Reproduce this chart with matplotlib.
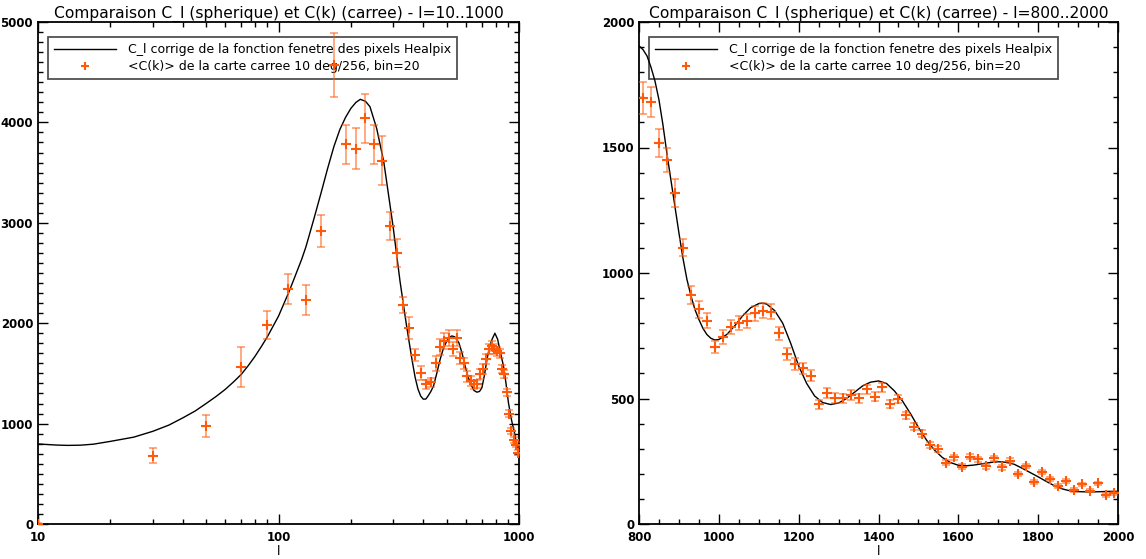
import numpy as np
import matplotlib
matplotlib.use('Agg')
import matplotlib.pyplot as plt
from matplotlib.lines import Line2D
from matplotlib.ticker import MultipleLocator, LogLocator, NullFormatter, FixedLocator, FixedFormatter

###############################################################################
# Data
###############################################################################
# left panel: l = 10..1000 (log axis)
ell_th_left = [10, 12, 13.3, 15, 17, 20, 25, 30, 35, 40, 45, 50, 55, 60, 65, 70,
               75, 80, 85, 90, 100, 110, 116, 125, 130, 140, 150, 160, 170, 180,
               190, 200, 210, 219, 230, 240, 256, 274, 291, 300, 310, 320, 330,
               340, 350, 360, 370, 380, 390, 400, 410, 420, 430, 441, 455, 470,
               485, 501, 515, 525, 540, 562, 580, 597, 615, 636, 650, 668, 685,
               701, 718, 736, 755, 773, 794, 815, 835, 862, 883, 904, 930, 958,
               980, 1000]
cl_th_left = [797, 786, 783, 785, 795, 823, 865, 923, 985, 1057, 1125, 1200, 1270,
              1340, 1415, 1490, 1580, 1673, 1770, 1867, 2070, 2300, 2440, 2640,
              2760, 3030, 3290, 3540, 3760, 3930, 4050, 4140, 4200, 4230, 4210,
              4157, 3940, 3607, 3173, 2950, 2680, 2420, 2200, 1990, 1800, 1620,
              1460, 1345, 1275, 1243, 1245, 1280, 1320, 1373, 1500, 1640, 1750,
              1823, 1860, 1873, 1865, 1807, 1700, 1573, 1460, 1373, 1330, 1313,
              1320, 1357, 1480, 1640, 1770, 1840, 1900, 1840, 1720, 1573, 1400,
              1207, 1040, 907, 780, 680]

ell_left = list(range(10, 1000, 20))
ck_left = [0, 680, 973, 1563, 1980, 2340, 2230, 2920, 4570, 3780, 3740, 4040,
           3780, 3620, 2970, 2700, 2180, 1950, 1680, 1500, 1390, 1410, 1600, 1760,
           1820, 1850, 1740, 1850, 1650, 1600, 1470, 1420, 1390, 1390, 1490, 1540,
           1640, 1740, 1770, 1740, 1720, 1700, 1540, 1490, 1310, 1100, 930, 840,
           790, 710]
err_left = [5, 73, 110, 200, 140, 150, 150, 160, 320, 190, 200, 245, 190, 240,
            140, 140, 80, 110, 60, 70, 45, 45, 75, 80, 80, 80, 70, 80, 60, 55, 55,
            50, 45, 40, 50, 50, 50, 50, 50, 50, 45, 45, 40, 40, 35, 35, 30, 30,
            25, 25]

# right panel: l = 800..2000
ell_th_right = [800, 810, 820, 830, 840, 850, 860, 870, 880, 890, 900, 910, 920,
                930, 940, 950, 960, 970, 980, 990, 1000, 1020, 1040, 1060, 1080,
                1100, 1110, 1120, 1140, 1160, 1180, 1200, 1220, 1240, 1260, 1280,
                1300, 1320, 1340, 1360, 1380, 1400, 1420, 1440, 1460, 1480, 1500,
                1520, 1540, 1560, 1580, 1600, 1620, 1640, 1660, 1680, 1700, 1720,
                1740, 1760, 1780, 1800, 1820, 1840, 1860, 1880, 1900, 1920, 1940,
                1960, 1980, 2000]
cl_th_right = [1905, 1890, 1865, 1820, 1765, 1690, 1590, 1475, 1370, 1265, 1160,
               1060, 975, 910, 855, 815, 780, 755, 740, 733, 735, 755, 790, 830,
               862, 878, 880, 876, 850, 800, 720, 630, 560, 510, 484, 476, 482,
               500, 525, 550, 565, 570, 560, 530, 490, 440, 385, 335, 295, 265,
               245, 234, 232, 235, 240, 245, 248, 246, 238, 222, 205, 188, 170,
               153, 140, 132, 129, 128, 128, 129, 130, 130]

ell_right = list(range(810, 2000, 20))
ck_right = [1698, 1683, 1517, 1450, 1317, 1101, 912, 855, 810, 705, 745, 785, 800,
            810, 840, 850, 845, 760, 677, 637, 620, 591, 477, 521, 503, 501, 514,
            501, 537, 507, 545, 477, 498, 433, 388, 359, 315, 300, 245, 265, 228,
            268, 258, 231, 262, 226, 252, 199, 231, 169, 208, 178, 151, 173, 135,
            158, 133, 162, 116, 122]
err_right = [63, 60, 56, 48, 56, 35, 36, 33, 30, 25, 28, 28, 28, 28, 30, 30, 30,
             25, 25, 25, 22, 22, 18, 20, 20, 18, 18, 18, 18, 18, 18, 16, 16, 15,
             15, 14, 13, 12, 11, 11, 10, 10, 10, 10, 10, 9, 9, 9, 9, 8, 8, 8, 8,
             8, 7, 7, 7, 7, 7, 7]

# labels -----------------------------------------------------------------------
LBL_TH = 'C_l corrige de la fonction fenetre des pixels Healpix'
LBL_CK = '<C(k)> de la carte carree 10 deg/256, bin=20'
TITLES = ['Comparaison C_l (spherique) et C(k) (carree) - l=10..1000',
          'Comparaison C_l (spherique) et C(k) (carree) - l=800..2000']

###############################################################################
# Style
###############################################################################
ORANGE = '#FF5A0A'
plt.rcParams['font.family'] = ['DejaVu Sans']

fig = plt.figure(figsize=(11.46, 5.59), dpi=100)
W, H = 1146., 559.
axL = fig.add_axes([38/W, (559-524)/H, (519-38)/W, 502/H])
axR = fig.add_axes([639/W, (559-524)/H, (1118-639)/W, 502/H])


def draw(ax, lt, ct, l, c, e):
    ax.plot(lt, ct, color='k', lw=1.0, zorder=3)
    ax.errorbar(l, c, yerr=e, fmt='none', ecolor=ORANGE, alpha=0.55,
                elinewidth=1.3, capsize=3, capthick=1.3, zorder=4)
    ax.plot(l, c, ls='none', marker='+', ms=7, mew=1.5, color=ORANGE, zorder=5)


def style(ax, title):
    for s in ax.spines.values():
        s.set_linewidth(1.3)
    ax.tick_params(which='both', direction='in', top=True, right=True,
                   labelsize=8.5, width=1.0)
    ax.tick_params(which='major', length=7)
    ax.tick_params(which='minor', length=3.5)
    ax.tick_params(axis='x', pad=5)
    for t in ax.get_xticklabels() + ax.get_yticklabels():
        t.set_fontweight('bold')
    ax.set_title(title, fontsize=11.2, pad=3)
    ax.set_xlabel('l', fontsize=9, labelpad=1)
    handles = [Line2D([], [], color='k', lw=1.0),
               Line2D([], [], ls='none', marker='+', ms=6, mew=1.5, color=ORANGE)]
    leg = ax.legend(handles, [LBL_TH, LBL_CK], loc='upper left',
                    bbox_to_anchor=(0.02, 0.97), borderaxespad=0,
                    fontsize=9.0, frameon=True,
                    fancybox=False, framealpha=1, edgecolor='#505050',
                    handlelength=5.0, handletextpad=0.9, borderpad=0.5,
                    labelspacing=0.3)
    leg.get_frame().set_linewidth(1.3)
    leg.set_zorder(2)


# left panel ------------------------------------------------------------------
draw(axL, ell_th_left, cl_th_left, ell_left, ck_left, err_left)
axL.set_xscale('log')
axL.set_xlim(10, 1000)
axL.set_ylim(0, 5000)
axL.xaxis.set_major_locator(FixedLocator([10, 100, 1000]))
axL.xaxis.set_major_formatter(FixedFormatter(['10', '100', '1000']))
axL.xaxis.set_minor_locator(LogLocator(base=10, subs=np.arange(2, 10)))
axL.xaxis.set_minor_formatter(NullFormatter())
axL.yaxis.set_major_locator(MultipleLocator(1000))
axL.yaxis.set_minor_locator(MultipleLocator(100))
style(axL, TITLES[0])

# right panel -----------------------------------------------------------------
draw(axR, ell_th_right, cl_th_right, ell_right, ck_right, err_right)
axR.set_xlim(800, 2000)
axR.set_ylim(0, 2000)
axR.xaxis.set_major_locator(MultipleLocator(200))
axR.xaxis.set_minor_locator(MultipleLocator(50))
axR.yaxis.set_major_locator(MultipleLocator(500))
axR.yaxis.set_minor_locator(MultipleLocator(100))
style(axR, TITLES[1])

plt.savefig('out.png', dpi=100, facecolor='w')
plt.close('all')
